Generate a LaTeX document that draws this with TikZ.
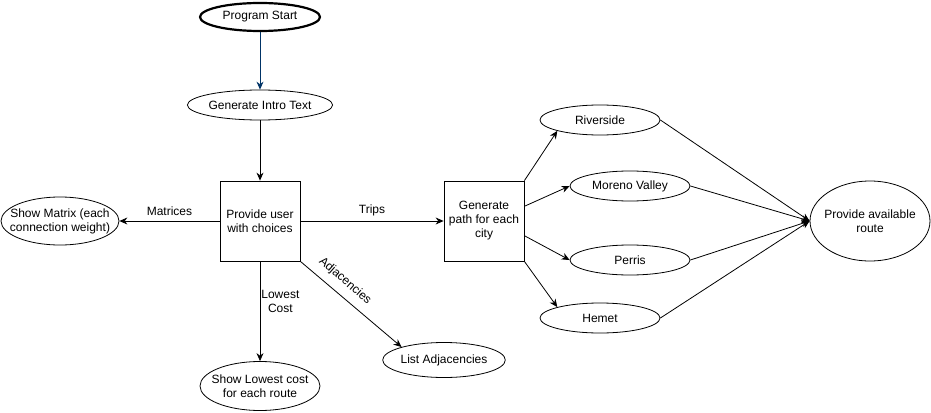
\documentclass[tikz,border=0pt]{standalone}
\usepackage{fontspec}
\setmainfont{Liberation Sans}
\usetikzlibrary{shapes.geometric,arrows.meta}
\begin{document}
\begin{tikzpicture}[x=1pt,y=-1pt,
  every node/.style={font=\fontsize{12}{14}\selectfont, inner sep=0pt, align=center},
  ell/.style={ellipse, draw, line width=0.8pt, minimum width=120pt, minimum height=30pt},
  boxnode/.style={rectangle, draw, line width=0.8pt, minimum width=80pt, minimum height=80pt},
  arr/.style={line width=0.8pt, -{Stealth[length=8pt,width=7pt]}}
]
\useasboundingbox (0,0) rectangle (931,412);
\node[ell, line width=2.2pt, minimum height=28pt] (start) at (260,17) {Program Start};
\node[ell] (intro) at (260,105) {Generate Intro Text};
\node[boxnode] (choices) at (260,221) {Provide user\\with choices};
\node[ell, minimum width=118pt, minimum height=48pt, label={center:Show Matrix (each\\connection weight)}] (matrix) at (60,221) {};
\node[boxnode] (gen) at (484,221) {Generate\\path for each\\city};
\node[ell] (riv) at (600,120) {Riverside};
\node[ell] (mor) at (630,186) {Moreno Valley};
\node[ell] (per) at (630,260) {Perris};
\node[ell] (hem) at (600,318) {Hemet};
\node[ell, minimum height=80pt, label={center:Provide available\\route}] (route) at (870,221) {};
\node[ell, minimum height=49pt, label={center:Show Lowest cost\\for each route}] (lowest) at (260,386) {};
\node[ell, minimum height=35pt] (adj) at (444,360) {List Adjacencies};

\draw[arr, color={rgb,255:red,0;green,51;blue,102}] (start) -- (intro);
\draw[arr] (intro) -- (choices);
\draw[arr] (choices.west) -- node[above=5pt] {Matrices} (matrix.east);
\draw[arr] (choices.east) -- node[above=5pt] {Trips} (gen.west);
\draw[arr] (choices.south) -- node[right=1pt, pos=0.4, align=center] {Lowest\\Cost} (lowest.north);
\draw[arr] (choices.south east) -- (adj.163);
\node[rotate=-41] (adjl) at (345,281) {Adjacencies};
\draw[arr] (gen.north east) -- (riv.south west);
\draw[arr] (gen.20) -- (mor.west);
\draw[arr] (gen.-20) -- (per.west);
\draw[arr] (gen.south east) -- (hem.north west);
\draw[arr] (riv.east) -- (route.west);
\draw[arr] (mor.east) -- (route.west);
\draw[arr] (per.east) -- (route.west);
\draw[arr] (hem.east) -- (route.west);
\end{tikzpicture}
\end{document}
